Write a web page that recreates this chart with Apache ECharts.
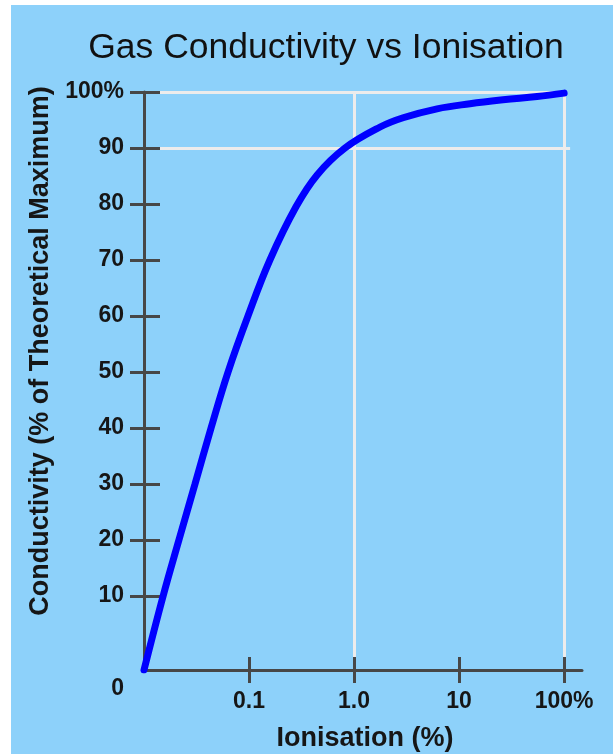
<!DOCTYPE html>
<html><head><meta charset="utf-8">
<script src="https://cdn.jsdelivr.net/npm/echarts@6/dist/echarts.min.js"></script>
<style>
html,body{margin:0;padding:0;background:#fff;width:613px;height:754px;overflow:hidden}
#bg{position:absolute;left:11px;top:5px;right:0;bottom:0;background:#8dd1fa}
#chart{position:absolute;left:0;top:0;width:613px;height:754px}
</style></head><body><div id="bg"></div><div id="chart"></div>
<script>
// Ionisation (%) on a log axis; conductivity (% of theoretical maximum)
const ionisation   = [0.01, 0.0152, 0.0215, 0.0306, 0.0435, 0.0631, 0.0977, 0.158, 0.280, 0.445, 0.820, 1.77, 2.93, 6.17, 12.7, 26.2, 55.3, 100];
const conductivity = [-3.2, 10, 20, 30, 40, 50, 60, 70, 79.5, 85.2, 90, 93.75, 95.4, 97.0, 97.9, 98.6, 99.2, 99.8];
const xTickValues = [0.1, 1, 10, 100];
const xTickLabels = ['0.1', '1.0', '10', '100%'];
const yTickValues = [10, 20, 30, 40, 50, 60, 70, 80, 90, 100];
const yTickLabels = ['10', '20', '30', '40', '50', '60', '70', '80', '90', '100%'];
const originLabel = '0';
const xMin = 0.01, xMax = 148;
const yMin = -3.2, yMax = 100;
const refLinesY = [[100, 100], [90, 114]];   // [value, x end]
const refLinesX = [1, 100];

const FONT = '"Liberation Sans", Arial, sans-serif';
const AX = '#474747';
const chart = echarts.init(document.getElementById('chart'), null, {renderer: 'canvas'});

const xLabelFmt = v => { const i = xTickValues.findIndex(t => Math.abs(t - v) / t < 1e-6); return i >= 0 ? xTickLabels[i] : ''; };
const yLabelFmt = v => { if (v < 0) return '\n' + originLabel; const i = yTickValues.indexOf(v); return i >= 0 ? yTickLabels[i] : ''; };

const lblStyle = {fontFamily: FONT, fontSize: 23, fontWeight: 'bold', color: '#161616'};
const nameStyle = {fontFamily: FONT, fontSize: 27, fontWeight: 'bold', color: '#161616'};

const markData = [];
refLinesY.forEach(r => markData.push([{coord: [xMin, r[0]]}, {coord: [r[1], r[0]]}]));
refLinesX.forEach(x => markData.push([{coord: [x, yMin]}, {coord: [x, yMax]}]));

chart.setOption({
  animation: false,
  backgroundColor: 'transparent',
  title: {
    text: 'Gas Conductivity vs Ionisation',
    left: 321, top: 25, textAlign: 'center',
    textStyle: {fontFamily: FONT, fontSize: 35.5, fontWeight: 'normal', color: '#111'}
  },
  grid: {left: 144, right: 31, top: 92, bottom: 84, containLabel: false, outerBoundsMode: 'none'},
  xAxis: [
    {
      type: 'log', logBase: 10, min: xMin, max: xMax, position: 'bottom', z: 1.5,
      axisLine: {show: true, onZero: false, lineStyle: {color: AX, width: 3}},
      axisTick: {show: true, customValues: xTickValues, length: 13, lineStyle: {color: AX, width: 3}},
      axisLabel: Object.assign({customValues: xTickValues, formatter: xLabelFmt, margin: 20}, lblStyle),
      splitLine: {show: false}, minorTick: {show: false},
      name: 'Ionisation (%)', nameLocation: 'middle', nameGap: 55,
      nameTextStyle: Object.assign({padding: [0, 0, 0, 4]}, nameStyle)
    },
    {
      type: 'log', logBase: 10, min: xMin, max: xMax, position: 'bottom', z: 1.5,
      axisLine: {show: false, onZero: false},
      axisTick: {show: true, inside: true, customValues: xTickValues, length: 13, lineStyle: {color: AX, width: 3}},
      axisLabel: {show: false}, splitLine: {show: false}
    }
  ],
  yAxis: [
    {
      type: 'value', min: yMin, max: yMax, position: 'left', z: 1.5,
      axisLine: {show: true, onZero: false, lineStyle: {color: AX, width: 3}},
      axisTick: {show: true, customValues: yTickValues, length: 14, lineStyle: {color: AX, width: 3}},
      axisLabel: Object.assign({customValues: [yMin].concat(yTickValues), formatter: yLabelFmt, margin: 20, lineHeight: 38}, lblStyle),
      splitLine: {show: false},
      name: 'Conductivity (% of Theoretical Maximum)', nameLocation: 'middle', nameGap: 88,
      nameTextStyle: Object.assign({padding: [0, 0, 0, 60]}, nameStyle)
    },
    {
      type: 'value', min: yMin, max: yMax, position: 'left', z: 1.5,
      axisLine: {show: false, onZero: false},
      axisTick: {show: true, inside: true, customValues: yTickValues, length: 16, lineStyle: {color: AX, width: 3}},
      axisLabel: {show: false}, splitLine: {show: false}
    }
  ],
  series: [{
    type: 'line', xAxisIndex: 0, yAxisIndex: 0, z: 2,
    data: ionisation.map((x, i) => [x, conductivity[i]]),
    smooth: 0.4, showSymbol: false, symbol: 'none',
    lineStyle: {color: '#0000ff', width: 7, cap: 'round'},
    markLine: {
      z: 1, silent: true, symbol: 'none', label: {show: false},
      lineStyle: {color: '#ececec', width: 3, type: 'solid'},
      data: markData
    }
  }]
});
</script></body></html>
